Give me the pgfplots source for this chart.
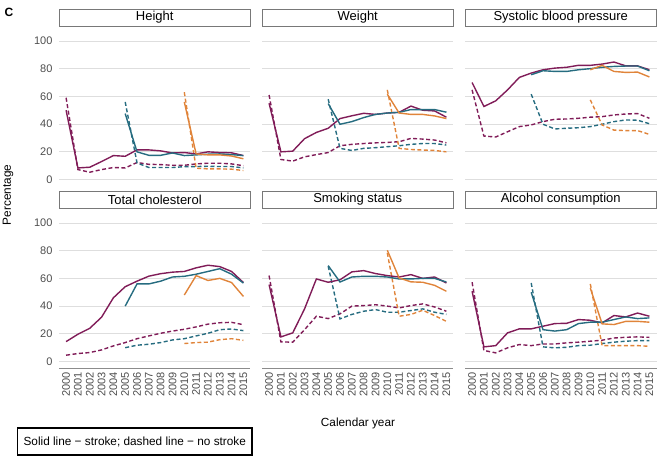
\documentclass[border=0pt]{standalone}
\usepackage{fontspec}
\setmainfont{Liberation Sans}
\usepackage{pgfplots}
\pgfplotsset{compat=1.18}
\definecolor{purp}{RGB}{128,28,88}
\definecolor{tealc}{RGB}{38,108,128}
\definecolor{orng}{RGB}{224,132,58}
\definecolor{gridc}{RGB}{222,222,222}
\definecolor{stripc}{RGB}{120,120,120}
\definecolor{tickc}{RGB}{77,77,77}
\pgfplotsset{
  facet/.style={
    scale only axis, width=191.5pt, height=152.5pt, anchor=north west,
    xmin=1999.4, xmax=2015.6, ymin=-5, ymax=105,
    ytick={0,20,40,60,80,100},
    xtick={2000,2001,2002,2003,2004,2005,2006,2007,2008,2009,2010,2011,2012,2013,2014,2015},
    xticklabels={}, yticklabels={},
    ymajorgrids, grid style={color=gridc, line width=0.7pt},
    axis line style={draw=none}, major tick length=0pt,
    tick label style={font=\fontsize{11}{12}\selectfont, text=tickc},
    title style={at={(0.5,1)}, anchor=south, yshift=1.5pt, draw=stripc, fill=white,
      line width=0.8pt, minimum width=190.7pt, minimum height=17pt, inner sep=0pt,
      font=\fontsize{13}{14}\selectfont, text=black},
  },
  leftcol/.style={yticklabels={0,20,40,60,80,100}, yticklabel style={xshift=-3pt}},
  bottomrow/.style={
    xticklabels={2000,2001,2002,2003,2004,2005,2006,2007,2008,2009,2010,2011,2012,2013,2014,2015},
    xticklabel style={rotate=90, anchor=east, yshift=0pt},
    extra description/.code={\draw[color=black!45, line width=0.7pt] (rel axis cs:0,0) -- (rel axis cs:1,0);}},
  ps/.style={color=purp, line width=1.4pt},
  pd/.style={color=purp, line width=1.4pt, dash pattern=on 4pt off 2.5pt},
  ts/.style={color=tealc, line width=1.4pt},
  td/.style={color=tealc, line width=1.4pt, dash pattern=on 4pt off 2.5pt},
  os/.style={color=orng, line width=1.4pt},
  od/.style={color=orng, line width=1.4pt, dash pattern=on 4pt off 2.5pt},
}
\begin{document}
\begin{tikzpicture}
\useasboundingbox (0,0) rectangle (657pt,-458pt);
% ---------- Height ----------
\begin{axis}[facet, leftcol, at={(59pt,-34pt)}, title={Height}]
\addplot[pd] coordinates {(2000,59)(2001,7.2)(2002,5.3)(2003,7.2)(2004,8.7)(2005,8.4)(2006,12.3)(2007,11)(2008,10.8)(2009,10.3)(2010,10.3)(2011,11.3)(2012,11.8)(2013,11.8)(2014,11.3)(2015,10)};
\addplot[td] coordinates {(2005,56)(2006,12)(2007,8.7)(2008,8.7)(2009,8.7)(2010,9.3)(2011,9.4)(2012,9.6)(2013,9.4)(2014,9.4)(2015,8.4)};
\addplot[od] coordinates {(2010,63)(2011,8.2)(2012,7.7)(2013,7.7)(2014,7.5)(2015,6.5)};
\addplot[ps] coordinates {(2000,50)(2001,8.4)(2002,8.9)(2003,13)(2004,17.3)(2005,16.8)(2006,21.4)(2007,21.4)(2008,20.7)(2009,19.2)(2010,19.5)(2011,18.5)(2012,20)(2013,19.5)(2014,19.3)(2015,17.3)};
\addplot[ts] coordinates {(2005,47.6)(2006,20)(2007,17.5)(2008,17.5)(2009,19.2)(2010,17.3)(2011,17.8)(2012,18.3)(2013,18.5)(2014,18)(2015,17.3)};
\addplot[os] coordinates {(2010,56)(2011,18.5)(2012,17.8)(2013,17.8)(2014,17)(2015,15)};
\end{axis}
% ---------- Weight ----------
\begin{axis}[facet, at={(262pt,-34pt)}, title={Weight}]
\addplot[pd] coordinates {(2000,61)(2001,14.5)(2002,13.3)(2003,16.4)(2004,18)(2005,19.5)(2006,24.4)(2007,25.4)(2008,26)(2009,26.5)(2010,26.8)(2011,27.3)(2012,29.7)(2013,29.2)(2014,28.5)(2015,26.5)};
\addplot[td] coordinates {(2005,58)(2006,22.5)(2007,21)(2008,22.5)(2009,23)(2010,23.7)(2011,24.4)(2012,25.4)(2013,26)(2014,26)(2015,24.9)};
\addplot[od] coordinates {(2010,64.7)(2011,22.5)(2012,21.7)(2013,21.3)(2014,21)(2015,20)};
\addplot[ps] coordinates {(2000,55)(2001,20)(2002,20.5)(2003,29.5)(2004,34)(2005,37)(2006,44)(2007,46)(2008,47.8)(2009,47)(2010,48)(2011,48.5)(2012,53)(2013,50)(2014,49.5)(2015,45)};
\addplot[ts] coordinates {(2005,54.8)(2006,39.9)(2007,41.8)(2008,44.7)(2009,47)(2010,48)(2011,48.5)(2012,50.5)(2013,50.5)(2014,50.5)(2015,48.6)};
\addplot[os] coordinates {(2010,61.6)(2011,48)(2012,47)(2013,47)(2014,45.9)(2015,44)};
\end{axis}
% ---------- Systolic blood pressure ----------
\begin{axis}[facet, at={(465pt,-34pt)}, title={Systolic blood pressure}]
\addplot[pd] coordinates {(2000,64.7)(2001,31.4)(2002,30.7)(2003,34.5)(2004,38.2)(2005,39.4)(2006,41.8)(2007,43.5)(2008,43.7)(2009,44.2)(2010,45)(2011,45.4)(2012,46.6)(2013,47.3)(2014,47.6)(2015,44.2)};
\addplot[td] coordinates {(2005,61.6)(2006,39.9)(2007,36.5)(2008,37)(2009,37.4)(2010,38.2)(2011,39.9)(2012,41.8)(2013,43)(2014,42.8)(2015,40.3)};
\addplot[od] coordinates {(2010,57.5)(2011,39.4)(2012,35.7)(2013,35.3)(2014,35.3)(2015,32.6)};
\addplot[ps] coordinates {(2000,70)(2001,52.7)(2002,56.8)(2003,64.7)(2004,73.7)(2005,76.8)(2006,79.2)(2007,80.4)(2008,81)(2009,82.4)(2010,82.4)(2011,83.3)(2012,84.8)(2013,82)(2014,82)(2015,79.2)};
\addplot[ts] coordinates {(2005,75.6)(2006,78.5)(2007,78)(2008,78)(2009,79.2)(2010,80)(2011,81)(2012,81.6)(2013,81.9)(2014,81.9)(2015,78.5)};
\addplot[os] coordinates {(2010,79.2)(2011,82.4)(2012,78)(2013,77.3)(2014,77.5)(2015,74)};
\end{axis}
% ---------- Total cholesterol ----------
\begin{axis}[facet, leftcol, bottomrow, at={(59pt,-216pt)}, title={Total cholesterol}]
\addplot[pd] coordinates {(2000,4.6)(2001,5.8)(2002,6.5)(2003,8.4)(2004,11.3)(2005,13.7)(2006,16.5)(2007,18.5)(2008,20.4)(2009,22)(2010,23.3)(2011,25)(2012,27)(2013,28)(2014,28.3)(2015,26.6)};
\addplot[td] coordinates {(2005,10)(2006,11.8)(2007,12.5)(2008,13.7)(2009,15.6)(2010,16.5)(2011,18.5)(2012,20.4)(2013,23)(2014,23.5)(2015,22.3)};
\addplot[od] coordinates {(2010,13)(2011,13.7)(2012,14)(2013,15.8)(2014,16.5)(2015,15.3)};
\addplot[ps] coordinates {(2000,14.4)(2001,19.7)(2002,24)(2003,32)(2004,46)(2005,54)(2006,58)(2007,61.6)(2008,63.4)(2009,64.5)(2010,65)(2011,67.6)(2012,69.5)(2013,68.5)(2014,65)(2015,57)};
\addplot[ts] coordinates {(2005,40)(2006,56)(2007,56)(2008,58)(2009,61)(2010,61.5)(2011,63)(2012,65)(2013,67)(2014,63)(2015,56.6)};
\addplot[os] coordinates {(2010,48)(2011,62)(2012,58.5)(2013,60)(2014,57)(2015,47)};
\end{axis}
% ---------- Smoking status ----------
\begin{axis}[facet, bottomrow, at={(262pt,-216pt)}, title={Smoking status}]
\addplot[pd] coordinates {(2000,62)(2001,14.2)(2002,14)(2003,23)(2004,32.7)(2005,31)(2006,34.4)(2007,40)(2008,40.4)(2009,41)(2010,40)(2011,38.7)(2012,40.4)(2013,41.6)(2014,39.4)(2015,36.3)};
\addplot[td] coordinates {(2005,68.8)(2006,30.8)(2007,34)(2008,36.3)(2009,37.5)(2010,35.6)(2011,35.6)(2012,36.8)(2013,38)(2014,35.6)(2015,34)};
\addplot[od] coordinates {(2010,78.4)(2011,32.7)(2012,34)(2013,37)(2014,33.2)(2015,29)};
\addplot[ps] coordinates {(2000,55.5)(2001,17.8)(2002,20.7)(2003,38)(2004,59.6)(2005,57.2)(2006,59)(2007,64.7)(2008,65.6)(2009,63.5)(2010,62)(2011,61)(2012,62.7)(2013,60)(2014,61)(2015,56.7)};
\addplot[ts] coordinates {(2005,69.2)(2006,57.4)(2007,61)(2008,61.5)(2009,61.5)(2010,61)(2011,59.6)(2012,59.6)(2013,60)(2014,60)(2015,57.4)};
\addplot[os] coordinates {(2010,80.3)(2011,60.3)(2012,57.5)(2013,57.2)(2014,55)(2015,50.7)};
\end{axis}
% ---------- Alcohol consumption ----------
\begin{axis}[facet, bottomrow, at={(465pt,-216pt)}, title={Alcohol consumption}]
\addplot[pd] coordinates {(2000,57.2)(2001,8)(2002,6.3)(2003,9.9)(2004,12.3)(2005,11.5)(2006,12.7)(2007,12.7)(2008,13.5)(2009,14)(2010,14.7)(2011,15.4)(2012,17)(2013,17.5)(2014,17.8)(2015,17.5)};
\addplot[td] coordinates {(2005,56.7)(2006,10.6)(2007,9.9)(2008,10.3)(2009,11.5)(2010,11.8)(2011,13)(2012,14)(2013,14.7)(2014,15.1)(2015,15.1)};
\addplot[od] coordinates {(2010,56)(2011,11.5)(2012,11.5)(2013,11.5)(2014,11.5)(2015,11)};
\addplot[ps] coordinates {(2000,50.7)(2001,10.6)(2002,11.5)(2003,20.7)(2004,23.6)(2005,23.6)(2006,25.5)(2007,27.4)(2008,27.6)(2009,30.3)(2010,29.8)(2011,27.9)(2012,33.2)(2013,32.2)(2014,35)(2015,32.7)};
\addplot[ts] coordinates {(2005,50)(2006,23)(2007,22)(2008,23)(2009,27.4)(2010,28.4)(2011,28.4)(2012,30.3)(2013,32.2)(2014,31)(2015,31.5)};
\addplot[os] coordinates {(2010,53)(2011,27.2)(2012,26.7)(2013,29)(2014,29)(2015,28.4)};
\end{axis}
% ---------- labels ----------
\node[font=\fontsize{12}{14}\selectfont\bfseries] at (9pt,-12pt) {C};
\node[rotate=90, font=\fontsize{11.8}{14}\selectfont] at (8pt,-195pt) {Percentage};
\node[font=\fontsize{11.8}{14}\selectfont] at (358pt,-423pt) {Calendar year};
\node[draw=black, line width=1.2pt, anchor=west, inner xsep=6pt, minimum height=27pt, font=\fontsize{11.8}{14}\selectfont] at (17pt,-441.5pt) {Solid line − stroke; dashed line − no stroke};
\end{tikzpicture}
\end{document}
